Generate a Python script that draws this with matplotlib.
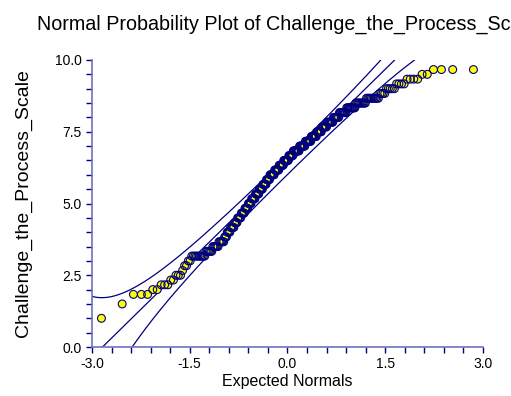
import numpy as np
import matplotlib
matplotlib.use("Agg")
import matplotlib.pyplot as plt
from matplotlib.ticker import MultipleLocator, FormatStrFormatter
from statistics import NormalDist

plt.rcParams['font.family'] = ['Liberation Sans', 'DejaVu Sans']

# score levels (average of 6 items) and how many cases sit on each level
score_levels = [1.0, 1.5, 1.833, 2.0, 2.167, 2.333, 2.5, 2.667, 2.833, 3.0,
                3.167, 3.333, 3.5, 3.667, 3.833, 4.0, 4.167, 4.333, 4.5, 4.667,
                4.833, 5.0, 5.167, 5.333, 5.5, 5.667, 5.833, 6.0, 6.167, 6.333,
                6.5, 6.667, 6.833, 7.0, 7.167, 7.333, 7.5, 7.667, 7.833, 8.0,
                8.167, 8.333, 8.5, 8.667, 8.833, 9.0, 9.167, 9.333, 9.5, 9.667]
level_counts = [1, 1, 3, 2, 3, 2, 3, 1, 2, 2,
                10, 6, 6, 6, 3, 4, 5, 4, 5, 5,
                5, 5, 6, 6, 6, 6, 6, 8, 8, 8,
                9, 8, 11, 10, 10, 9, 8, 8, 9, 8,
                9, 10, 10, 10, 4, 5, 4, 4, 2, 4]

# reference line: y = line_mean + line_sd * z
line_mean = 6.33
line_sd = 2.23

scores = np.repeat(score_levels, level_counts)
n = len(scores)
nd = NormalDist()
expected = np.array([nd.inv_cdf((i - 0.375) / (n + 0.25)) for i in range(1, n + 1)])

# 95% bands around the reference line
z = np.linspace(-3, 3, 601)
p = np.array([nd.cdf(v) for v in z])
dens = np.array([nd.pdf(v) for v in z])
center = line_mean + line_sd * z
half = 1.96 * line_sd * np.sqrt(p * (1 - p) / n) / dens

fig = plt.figure(figsize=(5.11, 3.96), dpi=100)
ax = fig.add_axes([0.180, 0.1237, 0.765, 0.7248])

navy = '#000080'
ax.plot(z, center, color=navy, lw=0.9)
ax.plot(z, center + half, color=navy, lw=0.9)
ax.plot(z, center - half, color=navy, lw=0.9)

ax.scatter(expected, scores, s=32, facecolor='#ffff00', edgecolor='none', zorder=3)
ax.scatter(expected, scores, s=32, facecolor='none', edgecolor=navy, linewidths=0.8, zorder=4)

ax.set_xlim(-3, 3)
ax.set_ylim(0, 10)
ax.xaxis.set_major_locator(MultipleLocator(1.5))
ax.xaxis.set_minor_locator(MultipleLocator(0.3))
ax.yaxis.set_major_locator(MultipleLocator(2.5))
ax.yaxis.set_minor_locator(MultipleLocator(0.5))
ax.xaxis.set_major_formatter(FormatStrFormatter('%.1f'))
ax.yaxis.set_major_formatter(FormatStrFormatter('%.1f'))

for s in ['top', 'right']:
    ax.spines[s].set_visible(False)
for s in ['left', 'bottom']:
    ax.spines[s].set_color('#7070c0')
    ax.spines[s].set_linewidth(1.2)
ax.tick_params(which='both', direction='out', length=4, width=1, color=navy,
               labelsize=10, labelcolor='black')

ax.set_xlabel('Expected Normals', fontsize=11.5, labelpad=2)
ax.set_ylabel('Challenge_the_Process_Scale', fontsize=14, labelpad=16)
# the title runs past the right edge in the original, only this much shows
fig.text(37 / 511, 1 - 24 / 396, 'Normal Probability Plot of Challenge_the_Process_Sc',
         fontsize=14.2, ha='left', va='center')

fig.savefig('out.png', dpi=100)
